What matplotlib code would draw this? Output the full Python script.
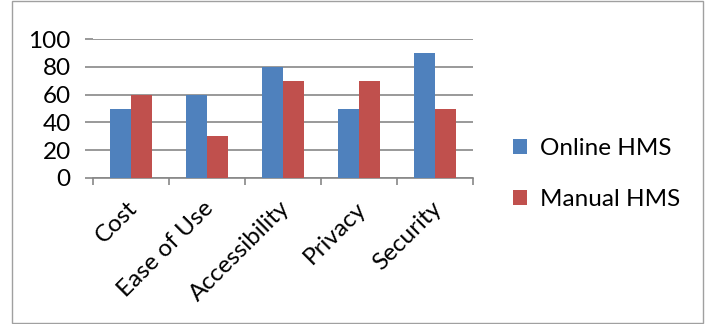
import matplotlib.pyplot as plt
import numpy as np
from matplotlib.patches import Rectangle

categories = ["Cost", "Ease of Use", "Accessibility", "Privacy", "Security"]
online_hms = [50, 60, 80, 50, 90]
manual_hms = [60, 30, 70, 70, 50]
y_ticks = [0, 20, 40, 60, 80, 100]

plt.rcParams['font.family'] = ['Lato', 'DejaVu Sans']
FS = 17.5

fig = plt.figure(figsize=(7.07, 3.24), dpi=100)
ax = fig.add_axes([93 / 707, 1 - 178 / 324, 380 / 707, 139 / 324])

# outer frame like the exported Excel chart
fig.patches.append(Rectangle((12 / 707, 0.002), 691 / 707, 0.996, transform=fig.transFigure,
                             fill=False, edgecolor='#a0a0a0', linewidth=1.0))

x = np.arange(len(categories))
w = 0.277
ax.bar(x - w / 2, online_hms, w, color='#4f81bd', label='Online HMS', zorder=3)
ax.bar(x + w / 2, manual_hms, w, color='#c0504d', label='Manual HMS', zorder=3)

ax.set_xlim(-0.5, len(categories) - 0.5)
ax.set_ylim(0, 100)
ax.set_yticks(y_ticks)
ax.yaxis.grid(True, color='#878787', linewidth=1.2, zorder=0)
ax.tick_params(axis='y', length=6, color='#878787', width=1.2, labelsize=FS, pad=10)

# category labels between boundary ticks
ax.set_xticks(np.arange(len(categories) + 1) - 0.5)
ax.set_xticklabels([])
ax.tick_params(axis='x', length=5, color='#878787', width=1.2, direction='out')
for i, c in enumerate(categories):
    ax.annotate(c, xy=(i, 0), xycoords=('data', 'axes fraction'), xytext=(-3, -14),
                textcoords='offset points', rotation=45, ha='right', va='top',
                rotation_mode='anchor', fontsize=FS)

for s in ['left', 'right', 'top']:
    ax.spines[s].set_visible(False)
ax.spines['bottom'].set_color('#878787')
ax.spines['bottom'].set_linewidth(1.2)

fig.legend(loc='upper left', bbox_to_anchor=(491 / 707, 1 - 116 / 324), frameon=False,
           fontsize=FS, handlelength=0.6, handleheight=0.6, handletextpad=0.5,
           labelspacing=1.25)

fig.savefig('out.png', dpi=100)
